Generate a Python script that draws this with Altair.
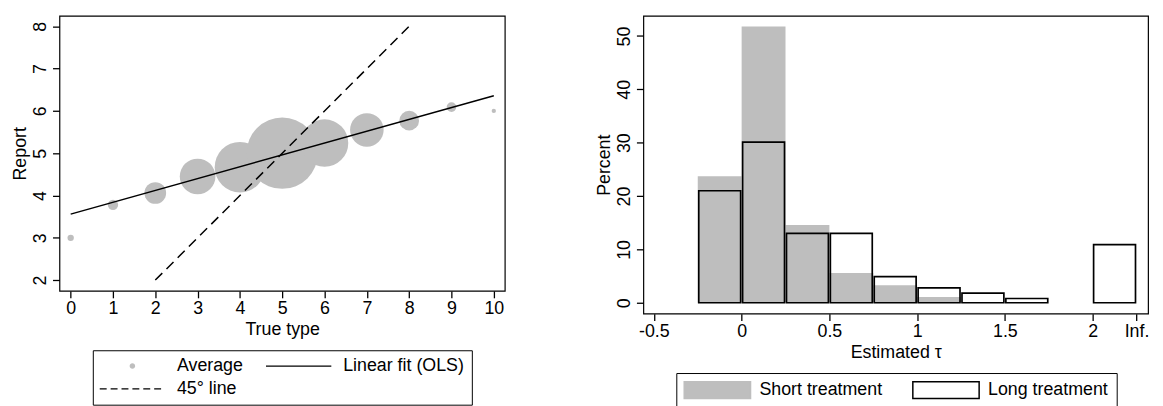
import altair as alt
import pandas as pd

FONT = "Liberation Sans"
GRAY = "#bebebe"
FS = 18

# ---------------- left panel data ----------------
true_type = [0, 1, 2, 3, 4, 5, 6, 7, 8, 9, 10]
avg_report = [3.0, 3.78, 4.06, 4.45, 4.67, 5.0, 5.24, 5.55, 5.77, 6.09, 6.0]
share_pct = [0.3, 0.8, 3.5, 9.5, 19.0, 37.9, 16.8, 8.4, 2.9, 0.7, 0.14]
fit_x = [0, 10]
fit_y = [3.56, 6.36]
diag_x = [2, 8]
diag_y = [2, 8]
left_y_ticks = [2, 3, 4, 5, 6, 7, 8]
left_series = ["Average", "Linear fit (OLS)", "45° line"]

# ---------------- right panel data ----------------
bin_edges = [-0.25, 0, 0.25, 0.5, 0.75, 1.0, 1.25, 1.5, 1.75]
short_pct = [23.7, 51.8, 14.6, 5.6, 3.3, 1.1, 0, 0]
long_pct = [21.0, 30.1, 13.0, 13.0, 4.9, 2.8, 1.8, 0.8]
inf_edges = [2.0, 2.25]
long_inf_pct = [10.9]
right_x_ticks = [-0.5, 0, 0.5, 1, 1.5, 2, 2.25]
right_x_labels = ["-0.5", "0", "0.5", "1", "1.5", "2", "Inf."]
right_y_ticks = [0, 10, 20, 30, 40, 50]
right_series = ["Short treatment", "Long treatment"]

# ---------------- tables ----------------
avg_df = pd.DataFrame({"x": true_type, "y": avg_report, "share": share_pct})
fit_df = pd.DataFrame({"x": fit_x, "y": fit_y})
diag_df = pd.DataFrame({"x": diag_x, "y": diag_y})
left_leg_df = pd.DataFrame({"series": left_series})

short_df = pd.DataFrame({"lo": bin_edges[:-1], "hi": bin_edges[1:], "pct": short_pct})
long_df = pd.DataFrame({
    "lo": bin_edges[:-1] + inf_edges[:1],
    "hi": bin_edges[1:] + inf_edges[1:],
    "pct": long_pct + long_inf_pct,
})
right_leg_df = pd.DataFrame({"series": right_series})

# ---------------- legend symbol paths (style only) ----------------
U = 7.0          # px per path unit (symbolSize 196 -> 14px box)
C = FS / 2.0     # symbol centre inside the legend slot (slot = font size)


def px(v):
    return round((v - C) / U, 4)


line_len = 66
circ_path = (f"M{px(33) - 0.4},0A0.4,0.4 0 1,0 {px(33) + 0.4},0"
             f"A0.4,0.4 0 1,0 {px(33) - 0.4},0Z")
solid_path = f"M{px(0)},-0.1H{px(line_len)}V0.1H{px(0)}Z"
dash_parts = []
start = 0.0
for i in range(6):
    a, b = start, start + 7
    dash_parts.append(f"M{px(a)},-0.1H{px(b)}V0.1H{px(a)}Z")
    start = b + 4
dash_path = "".join(dash_parts)
swatch_path = f"M{px(0)},-1.214H{px(67)}V1.214H{px(0)}Z"

label_expr = " : ".join(
    [f"datum.value == {v} ? '{l}'" for v, l in zip(right_x_ticks, right_x_labels)]
) + " : datum.label"

axis_x = dict(domain=False, grid=False, tickSize=7, tickWidth=1.3, tickColor="black",
              labelFont=FONT, labelFontSize=FS, labelColor="black", labelPadding=2,
              titleFont=FONT, titleFontSize=FS, titleFontWeight="normal",
              titleColor="black", titlePadding=3)
axis_y = dict(axis_x, labelAngle=270, labelAlign="center", labelBaseline="bottom",
              labelPadding=3, titlePadding=2)

# ---------------- left chart ----------------
xs_l = alt.Scale(domain=[-0.265, 10.26], nice=False, zero=False)
ys_l = alt.Scale(domain=[1.745, 8.25], nice=False, zero=False)

bubbles = alt.Chart(avg_df).mark_circle(color=GRAY, opacity=1).encode(
    x=alt.X("x:Q", scale=xs_l, title="True type",
            axis=alt.Axis(values=true_type, format="d", **axis_x)),
    y=alt.Y("y:Q", scale=ys_l, title="Report",
            axis=alt.Axis(values=left_y_ticks, format="d", **axis_y)),
    size=alt.Size("share:Q", scale=alt.Scale(domain=[0, 40], range=[0, 5472]), legend=None),
)
fit_line = alt.Chart(fit_df).mark_line(color="black", strokeWidth=1.5).encode(
    x="x:Q", y="y:Q")
diag_line = alt.Chart(diag_df).mark_line(color="black", strokeWidth=1.5,
                                         strokeDash=[10, 6]).encode(x="x:Q", y="y:Q")

left_legend_props = dict(orient="none", legendX=33.7, legendY=338, columns=2,
                         direction="horizontal", title=None,
                         labelFont=FONT, labelFontSize=FS, labelColor="black",
                         symbolSize=196, symbolStrokeWidth=0, symbolOpacity=1,
                         labelOffset=78 - FS, columnPadding=23, rowPadding=5, padding=7,
                         strokeColor="black", fillColor="white", labelLimit=0)
left_leg = alt.Chart(left_leg_df).transform_filter("false").mark_point(
    filled=True, opacity=1).encode(
    color=alt.Color("series:N", scale=alt.Scale(domain=left_series,
                                                range=[GRAY, "black", "black"]),
                    legend=alt.Legend(**left_legend_props)),
    shape=alt.Shape("series:N", scale=alt.Scale(domain=left_series,
                                                range=[circ_path, solid_path, dash_path]),
                    legend=alt.Legend(**left_legend_props)),
)

left = alt.layer(bubbles, fit_line, diag_line, left_leg).properties(width=450, height=278)

# ---------------- right chart ----------------
xs_r = alt.Scale(domain=[-0.56, 2.316], nice=False, zero=False)
ys_r = alt.Scale(domain=[-2.04, 53.8], nice=False, zero=False)

short_bars = alt.Chart(short_df).mark_rect(color=GRAY).encode(
    x=alt.X("lo:Q", scale=xs_r, title="Estimated τ",
            axis=alt.Axis(values=right_x_ticks, labelExpr=label_expr, **axis_x)),
    x2="hi:Q",
    y=alt.Y("pct:Q", scale=ys_r, title="Percent",
            axis=alt.Axis(values=right_y_ticks, format="d", **axis_y)),
    y2=alt.datum(0),
)
long_bars = alt.Chart(long_df).mark_rect(fill="white", fillOpacity=0, stroke="black",
                                         strokeWidth=1.7, xOffset=1, x2Offset=-1).encode(
    x="lo:Q", x2="hi:Q", y="pct:Q", y2=alt.datum(0))

right_legend_props = dict(orient="none", legendX=33.3, legendY=361, columns=2,
                          direction="horizontal", title=None,
                          labelFont=FONT, labelFontSize=FS, labelColor="black",
                          symbolSize=196, symbolStrokeWidth=1.5, symbolOpacity=1,
                          symbolType=swatch_path, labelOffset=76 - FS, columnPadding=27,
                          padding=8, strokeColor="black", fillColor="white", labelLimit=0)
right_leg = alt.Chart(right_leg_df).transform_filter("false").mark_point(
    filled=True, opacity=1).encode(
    color=alt.Color("series:N", scale=alt.Scale(domain=right_series, range=[GRAY, "white"]),
                    legend=alt.Legend(**right_legend_props)),
    stroke=alt.Stroke("series:N", scale=alt.Scale(domain=right_series,
                                                  range=[GRAY, "black"]),
                      legend=alt.Legend(**right_legend_props)),
)

right = alt.layer(short_bars, long_bars, right_leg).properties(width=510, height=301)

chart = alt.hconcat(left, right, spacing=90).properties(
    padding={"left": 3, "top": 4.7, "right": 5, "bottom": 5}
).configure_view(stroke="black", strokeWidth=1.2).resolve_scale(
    color="independent", shape="independent", stroke="independent", size="independent"
)

chart.save("out.html", embed_options={"renderer": "svg", "actions": False})
